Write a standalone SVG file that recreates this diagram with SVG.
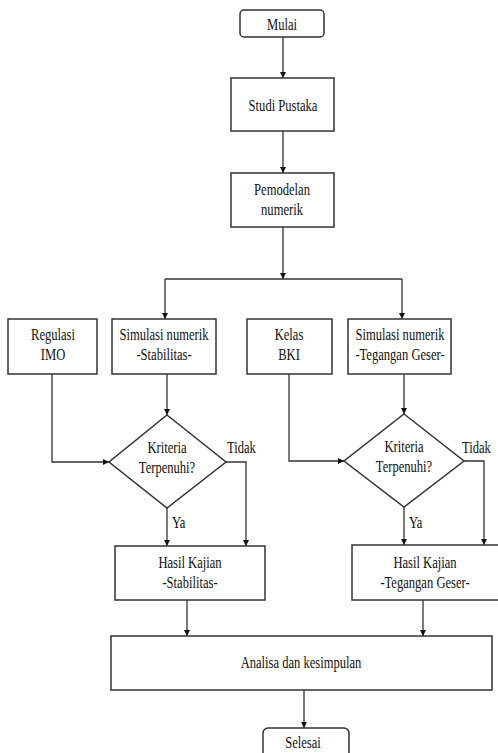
<svg xmlns="http://www.w3.org/2000/svg" width="498" height="753" viewBox="0 0 498 753">
<defs>
<style>
.box{fill:#fff;stroke:#333;stroke-width:1.5}
.ln{fill:none;stroke:#333;stroke-width:1.3}
text{font-family:"Liberation Serif","Times New Roman",serif;font-size:17px;fill:#111;text-anchor:middle}
.l{text-anchor:start}
</style>
<marker id="ah" viewBox="0 0 10 10" refX="10" refY="5" markerWidth="6" markerHeight="6" markerUnits="userSpaceOnUse" orient="auto">
<path d="M0,0 L10,5 L0,10 z" fill="#111"/>
</marker>
</defs>
<rect width="498" height="753" fill="#fff"/>
<g id="connectors">
<line class="ln" x1="283" y1="37" x2="283" y2="78" marker-end="url(#ah)"/>
<line class="ln" x1="283" y1="131" x2="283" y2="173" marker-end="url(#ah)"/>
<line class="ln" x1="283" y1="227" x2="283" y2="279" marker-end="url(#ah)"/>
<line class="ln" x1="165" y1="279" x2="402" y2="279"/>
<line class="ln" x1="165" y1="279" x2="165" y2="319" marker-end="url(#ah)"/>
<line class="ln" x1="402" y1="279" x2="402" y2="319" marker-end="url(#ah)"/>
<line class="ln" x1="167" y1="374" x2="167" y2="415" marker-end="url(#ah)"/>
<polyline class="ln" points="52,374 52,462 109,462" marker-end="url(#ah)"/>
<polyline class="ln" points="226,462 246,462 246,546" marker-end="url(#ah)"/>
<line class="ln" x1="167" y1="508" x2="167" y2="546" marker-end="url(#ah)"/>
<line class="ln" x1="404" y1="374" x2="404" y2="414" marker-end="url(#ah)"/>
<polyline class="ln" points="289,374 289,461 344,461" marker-end="url(#ah)"/>
<polyline class="ln" points="464,461 484,461 484,545" marker-end="url(#ah)"/>
<line class="ln" x1="404" y1="507" x2="404" y2="545" marker-end="url(#ah)"/>
<line class="ln" x1="187" y1="600" x2="187" y2="636" marker-end="url(#ah)"/>
<line class="ln" x1="423" y1="600" x2="423" y2="636" marker-end="url(#ah)"/>
<line class="ln" x1="304" y1="690" x2="304" y2="728" marker-end="url(#ah)"/>
</g>
<g id="mulai"><rect class="box" x="240" y="10" width="84" height="27" rx="4"/>
<text transform="translate(282 30) scale(0.74 1)">Mulai</text></g>
<g id="studi"><rect class="box" x="231" y="78" width="103" height="53"/>
<text transform="translate(283 111) scale(0.74 1)">Studi Pustaka</text></g>
<g id="pemodelan"><rect class="box" x="231" y="173" width="103" height="54"/>
<text transform="translate(282 195) scale(0.74 1)">Pemodelan</text>
<text transform="translate(282 215) scale(0.74 1)">numerik</text></g>
<g id="regulasi"><rect class="box" x="8" y="319" width="89" height="55"/>
<text transform="translate(53 340) scale(0.74 1)">Regulasi</text>
<text transform="translate(53 360) scale(0.74 1)">IMO</text></g>
<g id="sim1"><rect class="box" x="112" y="319" width="104" height="55"/>
<text transform="translate(164 340) scale(0.74 1)">Simulasi numerik</text>
<text transform="translate(164 360) scale(0.74 1)">-Stabilitas-</text></g>
<g id="kelas"><rect class="box" x="247" y="319" width="85" height="55"/>
<text transform="translate(289 340) scale(0.74 1)">Kelas</text>
<text transform="translate(289 360) scale(0.74 1)">BKI</text></g>
<g id="sim2"><rect class="box" x="348" y="319" width="103" height="55"/>
<text transform="translate(400 340) scale(0.74 1)">Simulasi numerik</text>
<text transform="translate(400 360) scale(0.74 1)">-Tegangan Geser-</text></g>
<g id="krit1"><polygon class="box" points="167,415 226,462 167,508 109,462"/>
<text transform="translate(167 453) scale(0.74 1)">Kriteria</text>
<text transform="translate(167 473) scale(0.74 1)">Terpenuhi?</text></g>
<g id="krit2"><polygon class="box" points="404,414 464,461 404,507 344,461"/>
<text transform="translate(404 452) scale(0.74 1)">Kriteria</text>
<text transform="translate(404 472) scale(0.74 1)">Terpenuhi?</text></g>
<g id="labels">
<text class="l" transform="translate(227 453) scale(0.74 1)">Tidak</text>
<text class="l" transform="translate(462 453) scale(0.74 1)">Tidak</text>
<text class="l" transform="translate(172 528) scale(0.74 1)">Ya</text>
<text class="l" transform="translate(409 528) scale(0.74 1)">Ya</text>
</g>
<g id="hasil1"><rect class="box" x="115" y="546" width="150" height="54"/>
<text transform="translate(190 568) scale(0.74 1)">Hasil Kajian</text>
<text transform="translate(190 588) scale(0.74 1)">-Stabilitas-</text></g>
<g id="hasil2"><rect class="box" x="352" y="545" width="160" height="55"/>
<text transform="translate(425 568) scale(0.74 1)">Hasil Kajian</text>
<text transform="translate(425 588) scale(0.74 1)">-Tegangan Geser-</text></g>
<g id="analisa"><rect class="box" x="111" y="636" width="381" height="54"/>
<text transform="translate(301 668) scale(0.74 1)">Analisa dan kesimpulan</text></g>
<g id="selesai"><rect class="box" x="263" y="728" width="86" height="35" rx="5"/>
<text transform="translate(303 748) scale(0.74 1)">Selesai</text></g>
</svg>
